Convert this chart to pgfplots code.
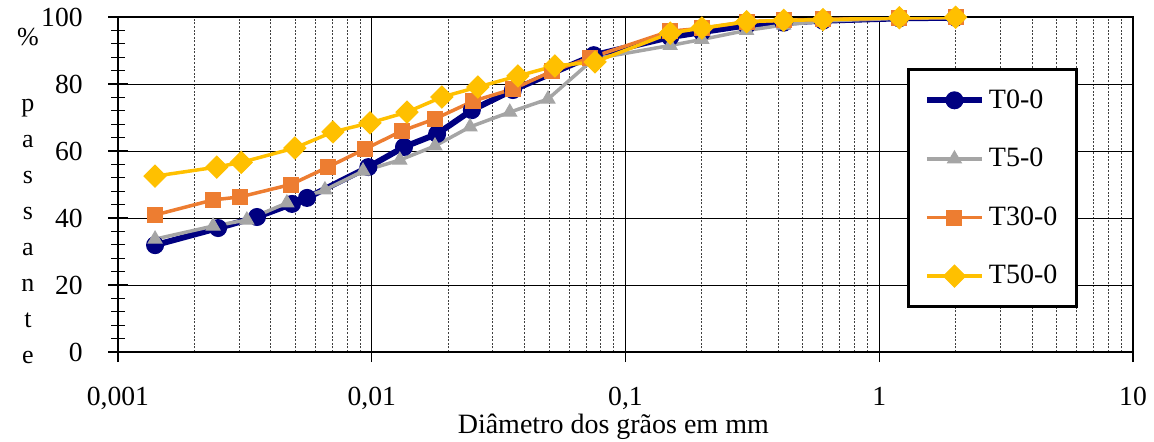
\documentclass[border=0pt]{standalone}
\usepackage{fontspec}
\setmainfont{Liberation Serif}
\usepackage{pgfplots}
\pgfplotsset{compat=1.18}

\definecolor{tzero}{RGB}{0,0,128}
\definecolor{tcinco}{RGB}{165,165,165}
\definecolor{ttrinta}{RGB}{237,125,49}
\definecolor{tcinq}{RGB}{255,192,0}

\begin{document}
\begin{tikzpicture}
\begin{axis}[
  scale only axis,
  width=507.5pt, height=167.5pt,
  xmode=log,
  xmin=0.001, xmax=10,
  ymin=0, ymax=100,
  axis lines=box,
  axis line style={black, line width=0.6pt},
  xtick={0.001,0.01,0.1,1,10},
  xticklabels={{0,001},{0,01},{0,1},{1},{10}},
  ytick={0,20,40,60,80,100},
  minor y tick num=4,
  tick align=center,
  major tick length=10pt,
  minor tick length=7pt,
  tick style={black, line width=0.6pt},
  minor x tick style={draw=none},
  xtick pos=bottom, ytick pos=left,
  grid=both,
  minor y grid style={draw=none},
  major grid style={black, line width=0.5pt},
  minor x grid style={black!75, line width=0.5pt, dash pattern=on 1pt off 0.8pt},
  /pgf/number format/assume math mode=true,
  xticklabel style={font=\fontsize{13.8}{13.8}\selectfont, anchor=base, inner sep=1pt, yshift=-21.5pt},
  yticklabel style={font=\fontsize{13.8}{13.8}\selectfont, anchor=east, inner sep=0pt, xshift=-12.5pt},
  xlabel={Diâmetro dos grãos em mm},
  xlabel style={at={(axis description cs:0.488,0)}, anchor=base, inner sep=1pt, yshift=-40.5pt, font=\fontsize{14}{14}\selectfont},
  legend style={
    at={(0.7773,0.8478)}, anchor=north west,
    draw=black, line width=1.5pt, fill=white,
    font=\fontsize{14}{14}\selectfont,
    inner xsep=7.75pt, inner ysep=8pt,
    row sep=14.5pt,
  },
  legend cell align=left,
  legend image code/.code={\draw[mark repeat=2,mark phase=2,#1] plot coordinates {(0pt,0pt)(13.75pt,0pt)(27.5pt,0pt)};},
]
\addplot[tzero, line width=3pt, mark=*, mark size=4.25pt, mark options={solid, line width=0.5pt, fill=tzero}] coordinates {
(0.0014,31.9)(0.00248,37.0)(0.00353,40.3)(0.00485,44.2)(0.00556,46.0)(0.0097,55.2)(0.0134,61.2)(0.0181,65.1)(0.0248,72.2)(0.036,78.2)(0.075,88.6)(0.15,94.0)(0.2,95.5)(0.3,97.5)(0.42,98.3)(0.6,98.9)(1.2,99.6)(2.0,99.8)
};
\addlegendentry{T0-0}
\addplot[tcinco, line width=1.75pt, mark=triangle*, mark size=4pt, mark options={solid, line width=0.5pt, fill=tcinco}] coordinates {
(0.0014,33.7)(0.00237,37.6)(0.00322,39.4)(0.00463,44.5)(0.00654,48.4)(0.00924,54.0)(0.0129,57.3)(0.01775,61.5)(0.0244,67.2)(0.035,71.6)(0.0495,75.5)(0.075,87.5)(0.15,91.5)(0.2,93.3)(0.3,96.0)(0.42,97.6)(0.6,98.8)(1.2,99.6)(2.0,99.8)
};
\addlegendentry{T5-0}
\addplot[ttrinta, line width=1.75pt, mark=square*, mark size=3.75pt, mark options={solid, line width=0.5pt, fill=ttrinta}] coordinates {
(0.0014,40.9)(0.00237,45.4)(0.00303,46.3)(0.0048,50.0)(0.00672,55.2)(0.0094,60.6)(0.01316,66.0)(0.01775,69.6)(0.0251,74.9)(0.036,78.5)(0.0513,83.8)(0.0724,87.8)(0.15,95.8)(0.2,96.6)(0.3,98.6)(0.42,99.0)(0.6,99.3)(1.2,99.7)(2.0,99.9)
};
\addlegendentry{T30-0}
\addplot[tcinq, line width=1.75pt, mark=square*, mark size=3.9pt, mark options={solid, rotate=45, line width=0.5pt, fill=tcinq}] coordinates {
(0.0014,52.5)(0.00245,55.2)(0.00306,56.6)(0.00498,60.9)(0.00703,65.7)(0.00984,68.4)(0.01377,71.6)(0.0189,76.1)(0.0262,79.1)(0.0377,82.4)(0.0527,85.4)(0.0759,86.6)(0.15,95.2)(0.2,96.7)(0.3,98.6)(0.42,99.0)(0.6,99.2)(1.2,99.8)(2.0,99.9)
};
\addlegendentry{T50-0}
\end{axis}
\node[anchor=north, inner sep=0pt, align=center, font=\fontsize{13}{18}\selectfont]
  at ([xshift=-45pt, yshift=-5.5pt]current axis.north west)
  {\%\\[15pt]p\\a\\s\\s\\a\\n\\t\\e};
\path ([xshift=-59pt,yshift=-42pt]current axis.south west) rectangle ([xshift=10.5pt,yshift=8.5pt]current axis.north east);
\end{tikzpicture}
\end{document}
